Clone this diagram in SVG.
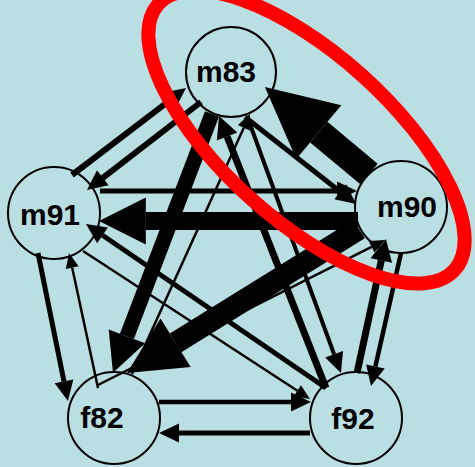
<svg xmlns="http://www.w3.org/2000/svg" width="475" height="467" viewBox="0 0 475 467">
<defs>
<style>
.bg{fill:#badfe3}
.node circle{fill:#badfe3;stroke:#000;stroke-width:2}
.node text{font-family:"Liberation Sans",Arial,sans-serif;font-weight:bold;font-size:30px;fill:#000;text-anchor:middle}
.c line{stroke:#000;stroke-linecap:butt;fill:none}
.big{marker-end:url(#ab)}
.med{marker-end:url(#am)}
.w7{marker-end:url(#a7)}
.thin{marker-end:url(#at)}
.hl{fill:none;stroke:#ff0000;stroke-width:14}
</style>
<marker id="ab" markerUnits="strokeWidth" viewBox="0 0 2.6 2.6" markerWidth="2.6" markerHeight="2.6" refX="0" refY="1.3" orient="auto" overflow="visible"><path d="M0,0 L2.6,1.3 L0,2.6z" fill="#000"/></marker>
<marker id="am" markerUnits="userSpaceOnUse" viewBox="0 0 20 19" markerWidth="20" markerHeight="19" refX="0" refY="9.5" orient="auto" overflow="visible"><path d="M0,0 L20,9.5 L0,19z" fill="#000"/></marker>
<marker id="a7" markerUnits="userSpaceOnUse" viewBox="0 0 22 22" markerWidth="22" markerHeight="22" refX="0" refY="11" orient="auto" overflow="visible"><path d="M0,0 L22,11 L0,22z" fill="#000"/></marker>
<marker id="at" markerUnits="userSpaceOnUse" viewBox="0 0 15 13" markerWidth="15" markerHeight="13" refX="0" refY="6.5" orient="auto" overflow="visible"><path d="M0,0 L15,6.5 L0,13z" fill="#000"/></marker>
</defs>
<rect class="bg" x="0" y="0" width="475" height="467"/>
<g id="nodes">
<g id="m83" class="node"><circle cx="231" cy="72" r="45"/><text x="226" y="82">m83</text></g>
<g id="m90" class="node"><circle cx="401" cy="207" r="46"/><text x="407" y="217">m90</text></g>
<g id="m91" class="node"><circle cx="54" cy="213" r="46"/><text x="50" y="225">m91</text></g>
<g id="f82" class="node"><circle cx="114" cy="418" r="46"/><text x="102" y="428">f82</text></g>
<g id="f92" class="node"><circle cx="356" cy="418" r="46"/><text x="353" y="429">f92</text></g>
</g>
<g id="connectors" class="c">
<line class="med" x1="72" y1="175" x2="170.1" y2="100.1" stroke-width="6"/>
<line class="med" x1="201" y1="102" x2="102.8" y2="177.8" stroke-width="6"/>
<line class="med" x1="100" y1="191" x2="337" y2="191" stroke-width="5"/>
<line class="med" x1="245" y1="117" x2="340.3" y2="191.7" stroke-width="5"/>
<line class="big" x1="358" y1="221" x2="145.8" y2="221" stroke-width="18"/>
<line class="big" x1="369" y1="174" x2="318.8" y2="132.1" stroke-width="27"/>
<line class="big" x1="359" y1="229" x2="175.6" y2="342.8" stroke-width="22"/>
<line class="big" x1="212" y1="114" x2="126.9" y2="336.4" stroke-width="15"/>
<line class="thin" x1="132" y1="374" x2="243.8" y2="127.7" stroke-width="2.5"/>
<line class="w7" x1="326" y1="388" x2="227.1" y2="136.5" stroke-width="7"/>
<line class="med" x1="247" y1="116" x2="334.1" y2="354.2" stroke-width="4"/>
<line class="med" x1="401" y1="253" x2="375.4" y2="366.5" stroke-width="4.5"/>
<line class="w7" x1="357" y1="373" x2="381.3" y2="260.5" stroke-width="7"/>
<line class="thin" x1="98" y1="385" x2="371.6" y2="246.8" stroke-width="2.5"/>
<line class="thin" x1="98" y1="388" x2="72.2" y2="267.7" stroke-width="2.5"/>
<line class="med" x1="38" y1="253" x2="64" y2="381.4" stroke-width="5"/>
<line class="med" x1="326" y1="388" x2="102.5" y2="235.3" stroke-width="5"/>
<line class="thin" x1="83" y1="251" x2="297.4" y2="390.8" stroke-width="2.5"/>
<line class="med" x1="159" y1="402" x2="291" y2="402" stroke-width="4.5"/>
<line class="med" x1="310" y1="433" x2="179" y2="433" stroke-width="5"/>
</g>
<ellipse class="hl" cx="306.5" cy="137" rx="199" ry="83" transform="rotate(41.9 306.5 137)"/>
</svg>
